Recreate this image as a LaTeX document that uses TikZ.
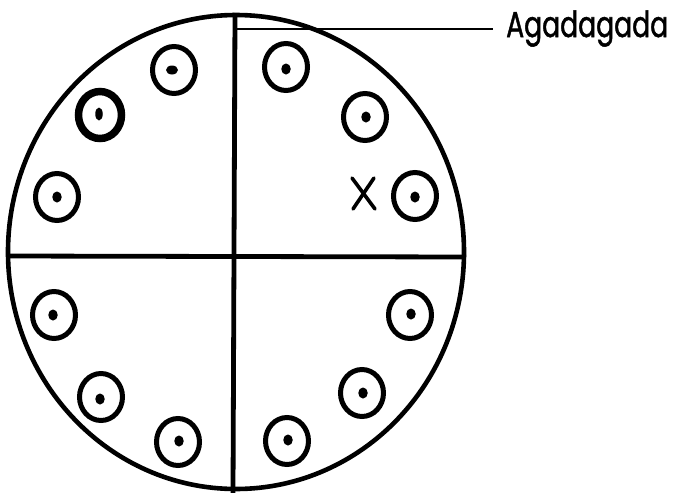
\documentclass[tikz,border=0pt]{standalone}
\usepackage{fontspec}
\setmainfont{Poppins}
\newfontfamily\labfont[FakeBold=1.5]{Poppins}
\usetikzlibrary{shapes.geometric}
\begin{document}
\begin{tikzpicture}[x=1pt,y=-1pt,
  ring/.style={draw=black, ellipse, line width=5pt, minimum width=43pt, minimum height=47pt, inner sep=0pt},
  thickring/.style={ring, line width=7.5pt},
  dotmark/.style={fill=black, ellipse, minimum width=9.5pt, minimum height=11pt, inner sep=0pt},
  divider/.style={line width=4.8pt},
  leader/.style={line width=2.6pt}]
\useasboundingbox[fill=white] (0,0) rectangle (673,493);
% outer circle
\draw[line width=4.6pt] (236,252) ellipse [x radius=228, y radius=237];
% dividing lines
\coordinate (vtop) at (235,13);
\coordinate (vbot) at (233,493);
\coordinate (hl) at (7,256);
\coordinate (hr) at (466,257);
\draw[divider] (vtop) -- (vbot);
\draw[divider] (hl) -- (hr);
% leader and label
\coordinate (lstart) at (235,29);
\coordinate (lend) at (493,29);
\draw[leader] (lstart) -- (lend);
\node[anchor=base west, inner sep=0pt, font=\labfont\fontsize{36}{38}\selectfont] (label) at (506,37) {\scalebox{0.74}[1]{Agadagada}};
% rings
\node[ring] (r1) at (174,70) {};
\node[thickring] (r2) at (100,115) {};
\node[ring] (r3) at (57,197) {};
\node[ring] (r4) at (54,315) {};
\node[ring] (r5) at (101,397) {};
\node[ring] (r6) at (178,442) {};
\node[ring] (r7) at (287,441) {};
\node[ring] (r8) at (362,393) {};
\node[ring] (r9) at (410,315) {};
\node[ring] (r10) at (415,196) {};
\node[ring] (r11) at (365,117) {};
\node[ring] (r12) at (286,67) {};
% dots
\node[dotmark, minimum width=12pt, minimum height=9pt] (d1) at (172,70) {};
\node[dotmark, minimum width=7.5pt, minimum height=13pt] (d2) at (99,114) {};
\node[dotmark] (d3) at (57,197) {};
\node[dotmark] (d4) at (53,315) {};
\node[dotmark] (d5) at (100,399) {};
\node[dotmark] (d6) at (179,441) {};
\node[dotmark] (d7) at (288,440) {};
\node[dotmark] (d8) at (363,393) {};
\node[dotmark] (d9) at (411,314) {};
\node[dotmark] (d10) at (415,197) {};
\node[dotmark] (d11) at (366,117) {};
\node[dotmark] (d12) at (286,69) {};
% cross mark
\coordinate (xa) at (352,178);
\coordinate (xb) at (375,209);
\coordinate (xc) at (374,178);
\coordinate (xd) at (353,209);
\draw[line width=3.6pt, line cap=round] (xa) -- (xb);
\draw[line width=3.6pt, line cap=round] (xc) -- (xd);
\end{tikzpicture}
\end{document}
